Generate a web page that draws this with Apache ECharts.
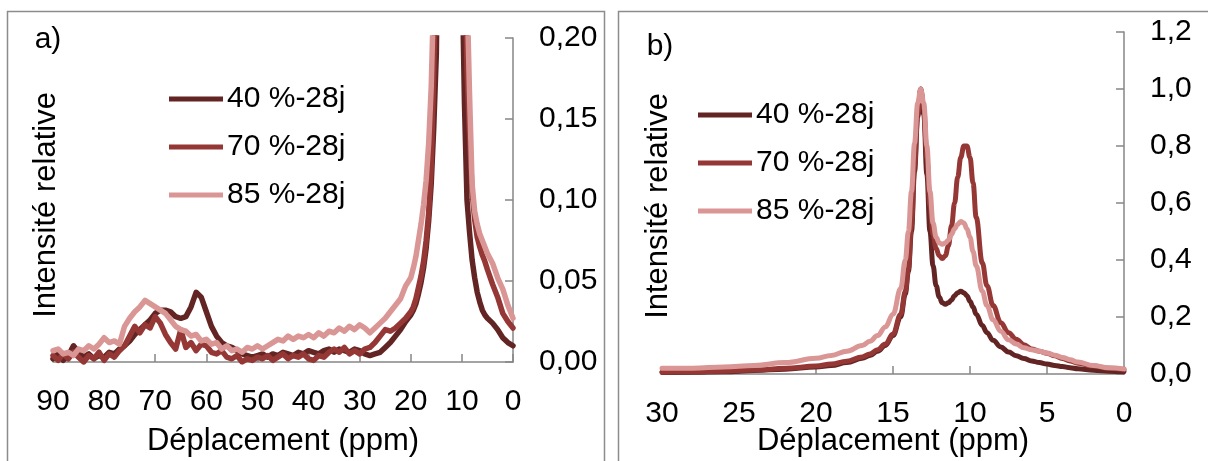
<!DOCTYPE html>
<html>
<head>
<meta charset="utf-8">
<script src="https://cdn.jsdelivr.net/npm/echarts@6/dist/echarts.min.js"></script>
<style>
html,body{margin:0;padding:0;background:#fff;}
#c{width:1208px;height:461px;}
</style>
</head>
<body>
<div id="c"></div>
<script>
// ---------- DATA ----------
const seriesNames = ['40 %-28j', '70 %-28j', '85 %-28j'];

// Panel a) chemical shift (ppm)
const xA = [90,89,88,87,86,85,84,83,82,81,80,79,78,77,76,75,74,73,72,71,
  70,69,68,67,66,65,64,63,62,61,60,59,58,57,56,55,54,53,52,51,
  50,49,48,47,46,45,44,43,42,41,40,39,38,37,36,35,34,33,32,31,
  30,29,28,27,26,25,24,23,22,21,
  20,19.5,19,18.5,18,17.5,17,16.5,16,15.5,15,14.5,14,
  13,12,11,10,
  9.5,9,8.5,8,7.5,7,6.5,6,5.5,5,
  4,3,2,1,0];

const a40 = [0.002,0.005,0.001,0.004,0.010,0.006,0.003,0.005,0.002,0.004,
  0.003,0.006,0.005,0.008,0.010,0.013,0.017,0.020,0.023,0.026,
  0.030,0.032,0.032,0.031,0.028,0.027,0.028,0.034,0.043,0.040,
  0.031,0.022,0.016,0.012,0.010,0.009,0.007,0.005,0.004,0.003,
  0.004,0.005,0.003,0.005,0.004,0.006,0.005,0.004,0.006,0.005,
  0.007,0.006,0.005,0.007,0.008,0.006,0.008,0.007,0.006,0.008,
  0.007,0.005,0.004,0.005,0.006,0.009,0.012,0.016,0.020,0.025,
  0.029,0.032,0.036,0.042,0.049,0.058,0.070,0.087,0.110,0.145,0.190,0.320,0.550,
  0.90,1.00,0.70,0.25,
  0.160,0.100,0.080,0.063,0.052,0.043,0.037,0.032,0.029,0.027,
  0.024,0.020,0.015,0.012,0.010];

const a70 = [0.004,0.001,0.005,0.002,0.006,0.003,0.000,0.004,0.002,0.006,
  0.001,0.005,0.003,0.007,0.010,0.016,0.022,0.018,0.023,0.021,
  0.028,0.024,0.017,0.012,0.008,0.020,0.009,0.012,0.007,0.011,
  0.010,0.006,0.005,0.007,0.003,0.002,0.004,0.000,0.002,0.001,
  0.003,0.002,0.004,0.001,0.003,0.005,0.002,0.004,0.003,0.005,
  0.002,0.001,0.004,0.003,0.006,0.008,0.006,0.009,0.005,0.007,
  0.005,0.008,0.009,0.012,0.016,0.020,0.019,0.021,0.024,0.027,
  0.031,0.034,0.039,0.046,0.053,0.062,0.075,0.092,0.120,0.180,0.260,0.400,0.620,
  0.92,1.00,0.80,0.42,
  0.270,0.180,0.140,0.105,0.088,0.077,0.071,0.066,0.062,0.057,
  0.048,0.040,0.030,0.025,0.021];

const a85 = [0.007,0.008,0.005,0.006,0.004,0.008,0.007,0.010,0.008,0.011,
  0.015,0.012,0.013,0.011,0.022,0.027,0.031,0.034,0.038,0.036,
  0.034,0.032,0.030,0.026,0.022,0.020,0.019,0.016,0.017,0.013,
  0.014,0.011,0.012,0.008,0.010,0.007,0.008,0.006,0.009,0.008,
  0.010,0.008,0.010,0.012,0.014,0.013,0.016,0.014,0.016,0.015,
  0.017,0.015,0.018,0.016,0.019,0.018,0.021,0.019,0.022,0.020,
  0.023,0.021,0.018,0.021,0.024,0.027,0.031,0.035,0.039,0.047,
  0.052,0.058,0.065,0.075,0.085,0.097,0.112,0.135,0.170,0.230,0.330,0.500,0.700,
  0.95,1.00,0.80,0.45,
  0.300,0.230,0.165,0.110,0.093,0.085,0.079,0.075,0.071,0.067,
  0.061,0.052,0.045,0.035,0.027];

// Panel b) chemical shift (ppm)
const xB = [30,28,26,24,22,20,19,18,17,16.5,16,15.5,15,14.5,14.2,14,13.8,13.6,13.4,13.2,13,
  12.8,12.6,12.4,12.2,12,11.8,11.6,11.4,11.2,11,10.8,10.6,10.4,10.2,10,
  9.8,9.6,9.2,8.9,8.5,8,7.5,7,6.5,6,5.5,5,4.5,4,3.5,3,2,1,0];

const b40 = [0.005,0.006,0.008,0.012,0.017,0.025,0.030,0.040,0.055,0.065,0.080,0.100,0.135,0.200,0.280,0.360,0.500,0.710,0.900,1.000,0.910,
  0.700,0.500,0.380,0.310,0.270,0.250,0.245,0.250,0.260,0.275,0.285,0.290,0.285,0.275,0.255,
  0.235,0.210,0.170,0.145,0.118,0.095,0.077,0.064,0.054,0.046,0.040,0.035,0.030,0.026,0.022,0.018,0.013,0.010,0.008];

const b70 = [0.006,0.008,0.010,0.014,0.020,0.028,0.035,0.045,0.060,0.070,0.085,0.105,0.140,0.210,0.290,0.370,0.520,0.730,0.910,1.000,0.930,
  0.760,0.590,0.490,0.440,0.415,0.405,0.415,0.450,0.520,0.600,0.690,0.760,0.800,0.800,0.760,
  0.670,0.550,0.390,0.310,0.240,0.180,0.145,0.122,0.103,0.088,0.080,0.073,0.064,0.054,0.046,0.038,0.028,0.020,0.015];

const b85 = [0.020,0.020,0.025,0.030,0.040,0.055,0.065,0.080,0.100,0.115,0.135,0.165,0.210,0.300,0.400,0.500,0.640,0.810,0.950,1.000,0.950,
  0.800,0.640,0.530,0.480,0.460,0.455,0.460,0.470,0.490,0.510,0.525,0.535,0.530,0.510,0.480,
  0.430,0.380,0.290,0.240,0.190,0.150,0.120,0.105,0.092,0.085,0.080,0.074,0.066,0.058,0.050,0.042,0.030,0.022,0.018];

// ---------- STYLE ----------
const FONT = '"Liberation Sans", Arial, sans-serif';
const COLORS = ['#632523', '#953735', '#D99694'];
const AXIS_GREY = '#868686';

const chart = echarts.init(document.getElementById('c'), null, {renderer: 'canvas'});

function pairs(xs, ys) { return xs.map((x, i) => [x, ys[i]]); }

function mkX(gi, max, interval) {
  return {
    type: 'value', gridIndex: gi, min: 0, max: max, interval: interval, inverse: true,
    position: 'bottom',
    axisLine: {show: true, onZero: false, lineStyle: {color: AXIS_GREY, width: 1.5}},
    axisTick: {show: true, inside: true, length: 8, lineStyle: {color: AXIS_GREY, width: 1.5}},
    axisLabel: {margin: 25, color: '#000', fontSize: 30, fontFamily: FONT},
    splitLine: {show: false}
  };
}
function mkY(gi, max, interval, dec) {
  return {
    type: 'value', gridIndex: gi, min: 0, max: max, interval: interval, position: 'right',
    axisLine: {show: true, lineStyle: {color: AXIS_GREY, width: 1.5}},
    axisTick: {show: true, inside: true, length: 8, lineStyle: {color: AXIS_GREY, width: 1.5}},
    axisLabel: {margin: 26, color: '#000', fontSize: 30, fontFamily: FONT,
      formatter: v => v.toFixed(dec).replace('.', ',')},
    splitLine: {show: false}
  };
}
function mkSeries(name, gi, xs, ys, color, width, smooth) {
  return {
    name: name, type: 'line', xAxisIndex: gi, yAxisIndex: gi,
    data: pairs(xs, ys), showSymbol: false, symbol: 'none',
    smooth: smooth, smoothMonotone: smooth ? 'x' : undefined,
    clip: true,
    lineStyle: {color: color, width: width, join: 'round', cap: 'round'},
    itemStyle: {color: color},
    emphasis: {disabled: true}
  };
}
function mkLegend(left, top) {
  return {
    orient: 'vertical', left: left, top: top, itemWidth: 54, itemHeight: 5, itemGap: 18,
    icon: 'rect', selectedMode: false, padding: 0,
    data: seriesNames,
    textStyle: {fontSize: 30, fontFamily: FONT, color: '#000', lineHeight: 30, padding: [0,0,0,-1]}
  };
}
function txt(x, y, s, size, rot) {
  return {type: 'text', x: x, y: y, rotation: rot || 0,
    style: {text: s, fontSize: size, fontFamily: FONT, fill: '#000', align: 'center', verticalAlign: 'middle'}};
}

chart.setOption({
  animation: false,
  backgroundColor: '#fff',
  grid: [
    {left: 53, right: 695, top: 38, bottom: 99},
    {left: 662, right: 84, top: 32, bottom: 87}
  ],
  xAxis: [mkX(0, 90, 10), mkX(1, 30, 5)],
  yAxis: [mkY(0, 0.2, 0.05, 2), mkY(1, 1.2, 0.2, 1)],
  legend: [mkLegend(169, 84), mkLegend(698, 100)],
  series: [
    mkSeries(seriesNames[0], 0, xA, a40, COLORS[0], 5.5, false),
    mkSeries(seriesNames[1], 0, xA, a70, COLORS[1], 5.5, false),
    mkSeries(seriesNames[2], 0, xA, a85, COLORS[2], 5.5, false),
    mkSeries(seriesNames[0], 1, xB, b40, COLORS[0], 5, 0.4),
    mkSeries(seriesNames[1], 1, xB, b70, COLORS[1], 5, 0.4),
    mkSeries(seriesNames[2], 1, xB, b85, COLORS[2], 5, 0.4)
  ],
  graphic: [
    {type: 'rect', shape: {x: 7.5, y: 11.5, width: 597, height: 480},
      style: {fill: 'none', stroke: '#8c8c8c', lineWidth: 1.5}, z: 0, silent: true},
    {type: 'rect', shape: {x: 618.5, y: 11.5, width: 600, height: 480},
      style: {fill: 'none', stroke: '#8c8c8c', lineWidth: 1.5}, z: 0, silent: true},
    txt(48, 40, 'a)', 30),
    txt(660, 47, 'b)', 30),
    txt(46, 205, 'Intensité relative', 31, Math.PI / 2),
    txt(658, 206, 'Intensité relative', 31, Math.PI / 2),
    txt(283, 441, 'Déplacement (ppm)', 31),
    txt(893, 441, 'Déplacement (ppm)', 31)
  ]
});
</script>
</body>
</html>
